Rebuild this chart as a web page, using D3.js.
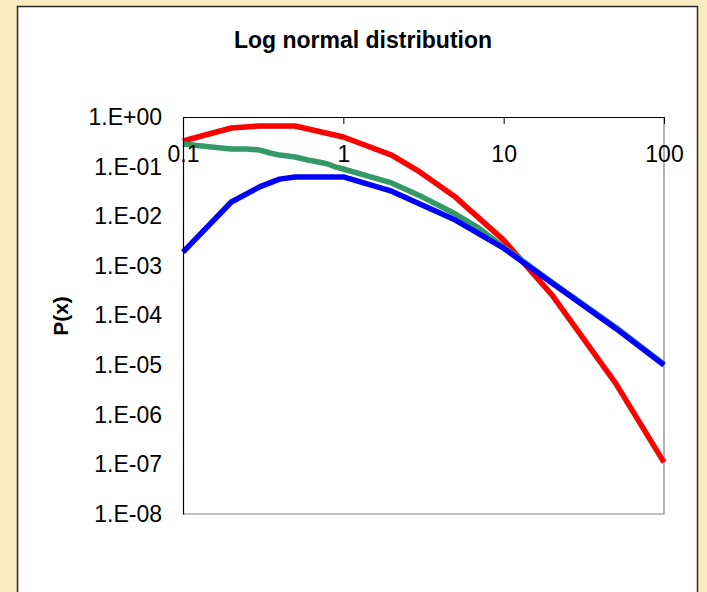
<!DOCTYPE html>
<html>
<head>
<meta charset="utf-8">
<script src="https://cdn.jsdelivr.net/npm/d3@7"></script>
<style>
  html, body { margin: 0; padding: 0; background: #F8EDC0; }
  svg { display: block; }
  text { font-family: Arial, "Liberation Sans", sans-serif; fill: #000; }
</style>
</head>
<body>
<svg id="chart" width="707" height="592"></svg>
<script>
// Series: x values and probability densities P(x)
const redX   = [0.1, 0.2, 0.3, 0.5, 1, 2, 3, 5, 10, 20, 50, 100];
const redY   = [0.328, 0.60, 0.66, 0.66, 0.395, 0.171, 0.078, 0.0243, 0.0033, 2.6e-4, 4.3e-6, 1.1e-7];

const greenX = [0.1, 0.15, 0.2, 0.25, 0.3, 0.35, 0.4, 0.45, 0.5, 0.6, 0.7, 0.8, 0.9, 1, 1.5, 2, 3, 4, 5, 7, 10, 20, 50, 100];
const greenY = [0.286, 0.248, 0.226, 0.226, 0.216, 0.188, 0.171, 0.164, 0.156, 0.136, 0.124, 0.113, 0.098, 0.0895, 0.0617, 0.047, 0.026, 0.0161, 0.0111, 0.00578, 0.00239, 4.7e-4, 5.8e-5, 1.05e-5];

const blueX  = [0.1, 0.2, 0.3, 0.4, 0.5, 1, 2, 3, 5, 10, 20, 50, 100];
const blueY  = [0.0019, 0.0194, 0.039, 0.056, 0.062, 0.062, 0.032, 0.0176, 0.0084, 0.00227, 4.5e-4, 5.5e-5, 1.0e-5];

// Axis ticks
const xTicks = [0.1, 1, 10, 100];
const xTickLabels = ["0.1", "1", "10", "100"];
const yTicks = [1, 1e-1, 1e-2, 1e-3, 1e-4, 1e-5, 1e-6, 1e-7, 1e-8];
const yTickLabels = ["1.E+00", "1.E-01", "1.E-02", "1.E-03", "1.E-04", "1.E-05", "1.E-06", "1.E-07", "1.E-08"];

const title = "Log normal distribution";
const yTitle = "P(x)";

const svg = d3.select("#chart");

// White chart panel on the pale yellow page
svg.append("rect")
  .attr("x", 17.5).attr("y", 6.5)
  .attr("width", 680).attr("height", 620)
  .attr("fill", "#fff").attr("stroke", "#2a2a2a").attr("stroke-width", 1.5);

const plot = { left: 183, right: 664, top: 117, bottom: 514 };

const x = d3.scaleLog().domain([0.1, 100]).range([plot.left, plot.right]);
const y = d3.scaleLog().domain([1e-8, 1]).range([plot.bottom, plot.top]);

// Plot-area frame (right and bottom edges)
svg.append("path")
  .attr("d", `M${plot.right},${plot.top}V${plot.bottom}H${plot.left}`)
  .attr("fill", "none").attr("stroke", "#808080").attr("stroke-width", 1.2);

// Series lines
const line = d3.line().x(d => x(d[0])).y(d => y(d[1]));
const series = [
  { xs: redX,   ys: redY,   color: "#FF0000" },
  { xs: greenX, ys: greenY, color: "#339966" },
  { xs: blueX,  ys: blueY,  color: "#0000FF" }
];
series.forEach(s => {
  svg.append("path")
    .datum(s.xs.map((v, i) => [v, s.ys[i]]))
    .attr("d", line)
    .attr("fill", "none")
    .attr("stroke", s.color)
    .attr("stroke-width", 5.5)
    .attr("stroke-linejoin", "round");
});

// Y axis (left), labels only
const yAxis = svg.append("g")
  .attr("transform", `translate(${plot.left},0)`)
  .call(d3.axisLeft(y).tickValues(yTicks)
    .tickFormat((d, i) => yTickLabels[i])
    .tickSize(0).tickPadding(21));
yAxis.select(".domain").attr("stroke", "#000").attr("stroke-width", 1.2);
yAxis.selectAll("text").style("font-size", "23px").style("font-family", "Arial, 'Liberation Sans', sans-serif");

// X axis drawn along the top edge, ticks pointing into the plot, labels beneath
const xAxis = svg.append("g")
  .attr("transform", `translate(0,${plot.top})`)
  .call(d3.axisBottom(x).tickValues(xTicks)
    .tickFormat((d, i) => xTickLabels[i])
    .tickSizeInner(7).tickSizeOuter(0).tickPadding(22));
xAxis.select(".domain").attr("stroke", "#000").attr("stroke-width", 1.2);
xAxis.selectAll(".tick line").attr("stroke", "#000");
xAxis.selectAll("text").style("font-size", "23px").style("font-family", "Arial, 'Liberation Sans', sans-serif");

// Titles
svg.append("text")
  .attr("x", 363).attr("y", 48)
  .attr("text-anchor", "middle")
  .style("font-size", "23px").style("font-weight", "bold")
  .text(title);

svg.append("text")
  .attr("transform", "translate(68,316) rotate(-90)")
  .attr("text-anchor", "middle")
  .style("font-size", "21px").style("font-weight", "bold")
  .text(yTitle);
</script>
</body>
</html>
